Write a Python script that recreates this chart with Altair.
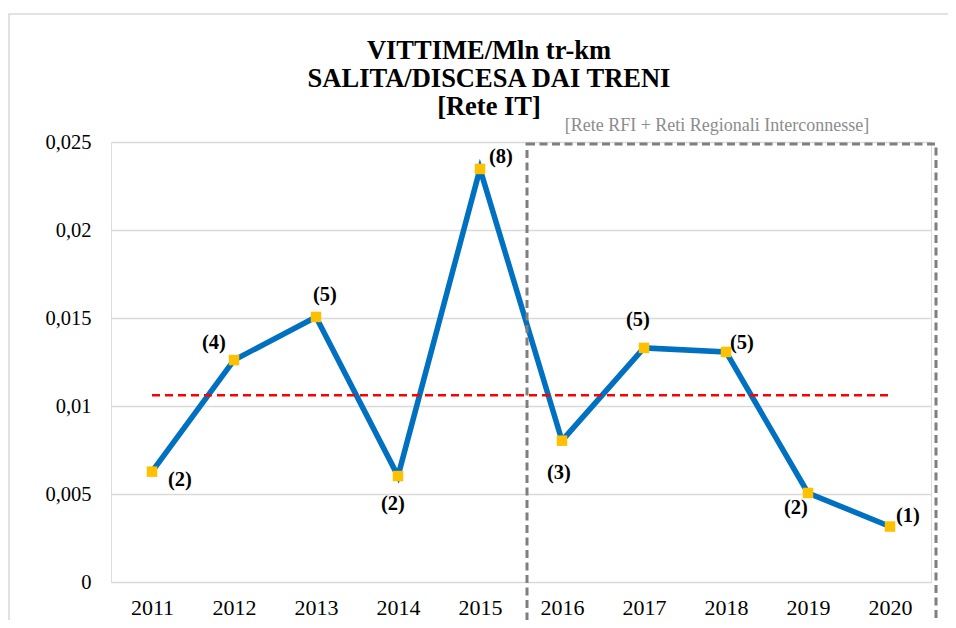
import altair as alt
import pandas as pd

# ---- data ----
years = ["2011", "2012", "2013", "2014", "2015", "2016", "2017", "2018", "2019", "2020"]
rates = [0.00627, 0.01261, 0.01506, 0.00602, 0.02347, 0.00803, 0.0133, 0.01307, 0.00506, 0.00315]
victims = ["(2)", "(4)", "(5)", "(2)", "(8)", "(3)", "(5)", "(5)", "(2)", "(1)"]
y_ticks = [0, 0.005, 0.01, 0.015, 0.02, 0.025]
title_lines = ["VITTIME/Mln tr-km", "SALITA/DISCESA DAI TRENI", "[Rete IT]"]
box_label = "[Rete RFI + Reti Regionali Interconnesse]"

df = pd.DataFrame({"year": years, "rate": rates, "label": victims})
mean_rate = sum(rates) / len(rates)

# label offsets (styling, px) per year
offsets = {
    "2011": (28, 8), "2012": (-20, -17), "2013": (9, -22), "2014": (-5, 28),
    "2015": (21, -12), "2016": (-3, 32), "2017": (-6, -28), "2018": (16, -9),
    "2019": (-12, 15), "2020": (18, -11),
}

FONT = "Liberation Serif, Times New Roman, serif"
W, H = 820, 440

x_enc = alt.X("year:N", scale=alt.Scale(type="point", padding=0.5),
              axis=alt.Axis(title=None, labelAngle=0, grid=False, domain=False, ticks=False,
                            labelFontSize=22, labelColor="#000000", labelFont=FONT,
                            labelBaseline="alphabetic", labelPadding=32))
y_scale = alt.Scale(domain=[0, 0.025], nice=False)
y_enc = alt.Y("rate:Q", scale=y_scale,
              axis=alt.Axis(title=None, values=y_ticks, grid=True, gridColor="#d9d9d9", gridWidth=1.3,
                            domain=False, ticks=False, labelFontSize=20.5, labelColor="#000000",
                            labelFont=FONT, labelPadding=20,
                            labelExpr="replace(toString(datum.value), '.', ',')"))

base = alt.Chart(df)
one = pd.DataFrame({"k": [0]})

# outer frame (decoration)
frame = alt.Chart(one).mark_rect(
    fill=None, stroke="#d9d9d9", strokeWidth=1.5
).encode(x=alt.value(-102), x2=alt.value(900), y=alt.value(-128), y2=alt.value(560))

# dashed box around 2016-2020
box = alt.Chart(one).mark_rect(
    fill=None, stroke="#7f7f7f", strokeWidth=3, strokeDash=[8, 4.5]
).encode(x=alt.value(416), x2=alt.value(825), y=alt.value(2), y2=alt.value(600))

box_text = alt.Chart(pd.DataFrame({"t": [box_label]})).mark_text(
    font=FONT, fontSize=18, color="#8c8c8c", baseline="alphabetic", align="center"
).encode(x=alt.value(606), y=alt.value(-11), text="t:N")

# title lines (text marks)
title_layers = []
for i, line_text in enumerate(title_lines):
    title_layers.append(
        alt.Chart(pd.DataFrame({"t": [line_text]})).mark_text(
            font=FONT, fontSize=26.5, fontWeight="bold", color="#000000",
            baseline="alphabetic", align="center"
        ).encode(x=alt.value(378), y=alt.value(-83 + 28 * i), text="t:N")
    )

mean_rule = alt.Chart(pd.DataFrame({"m": [mean_rate]})).mark_rule(
    color="#ff0000", strokeWidth=2.5, strokeDash=[8, 5]
).encode(x=alt.datum(years[0]), x2=alt.datum(years[-1]), y=alt.Y("m:Q", scale=y_scale))

line = base.mark_line(color="#0070c0", strokeWidth=5.5).encode(x=x_enc, y=y_enc)
points = base.mark_square(color="#ffc000", size=110, opacity=1).encode(x="year:N", y="rate:Q")

labels = []
for yr, (dx, dy) in offsets.items():
    labels.append(
        base.transform_filter(alt.datum.year == yr).mark_text(
            font=FONT, fontSize=20.5, fontWeight="bold", color="#000000",
            align="center", baseline="middle", dx=dx, dy=dy
        ).encode(x="year:N", y="rate:Q", text="label:N")
    )

chart = alt.layer(frame, line, mean_rule, points, *labels, box, box_text, *title_layers).properties(
    width=W, height=H,
    autosize=alt.AutoSizeParams(type="none"),
    padding={"left": 103, "top": 134, "right": 17, "bottom": 38},
).configure_view(stroke=None).configure(background="#ffffff")

chart.save("out.html", embed_options={"renderer": "svg", "actions": False})
